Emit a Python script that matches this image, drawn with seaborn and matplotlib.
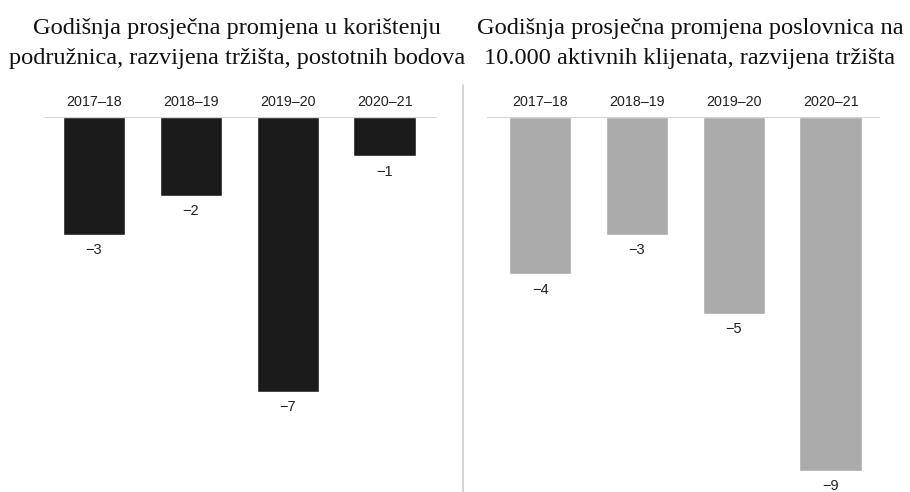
import matplotlib
matplotlib.use("Agg")
import matplotlib.pyplot as plt
from matplotlib.lines import Line2D
import seaborn as sns

periods = ["2017–18", "2018–19", "2019–20", "2020–21"]
branch_usage = [-3, -2, -7, -1]
branches_per_10k = [-4, -3, -5, -9]

title_left = ["Godišnja prosječna promjena u korištenju",
              "podružnica, razvijena tržišta, postotnih bodova"]
title_right = ["Godišnja prosječna promjena poslovnica na",
               "10.000 aktivnih klijenata, razvijena tržišta"]

sns.set_theme(style="white")
plt.rcParams["font.family"] = ["Liberation Sans", "DejaVu Sans"]

W, H = 910, 492
fig = plt.figure(figsize=(W / 100, H / 100), dpi=100)

def px_axes(x0, x1, ytop, ybot):
    return fig.add_axes([x0 / W, 1 - ybot / H, (x1 - x0) / W, (ybot - ytop) / H])

ax1 = px_axes(45, 437, 117, 492)
ax2 = px_axes(487, 880, 117, 492)

for ax, vals, color, xl in [
    (ax1, branch_usage, "#1b1b1b", (-0.506, 3.54)),
    (ax2, branches_per_10k, "#ababab", (-0.55, 3.51)),
]:
    sns.barplot(x=periods, y=vals, color=color, saturation=1, width=0.645, ax=ax)
    ax.set_ylim(-9.54, 0)
    ax.set_xlim(*xl)
    ax.axhline(0, color="#cccccc", lw=1.2, zorder=5)
    for s in ax.spines.values():
        s.set_visible(False)
    ax.xaxis.tick_top()
    ax.tick_params(axis="x", length=0, pad=6, labelsize=10.3, colors="#222222")
    ax.set_yticks([])
    ax.set_xlabel("")
    ax.set_ylabel("")
    for i, v in enumerate(vals):
        ax.annotate(f"−{abs(v)}", (i, v), xytext=(0, -6), textcoords="offset points",
                    ha="center", va="top", fontsize=10.5, color="#222222")

serif = ["Liberation Serif", "DejaVu Serif"]
for cx, lines in [(237, title_left), (690, title_right)]:
    for yb, line in zip([34, 64], lines):
        fig.text(cx / W, 1 - yb / H, line, ha="center", va="baseline",
                 fontsize=17.6, family=serif, color="#111111")

fig.add_artist(Line2D([463 / W, 463 / W], [0, 1 - 85 / H], color="#cccccc", lw=1.2))

fig.savefig("out.png", dpi=100)
